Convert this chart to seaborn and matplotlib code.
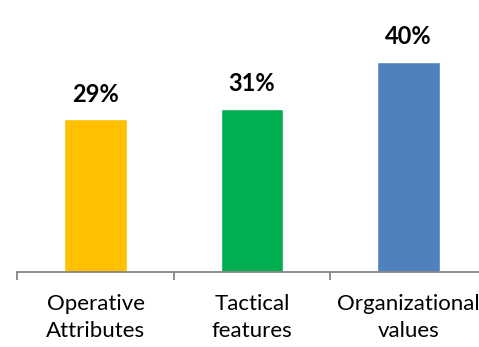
import matplotlib
matplotlib.use("Agg")
import matplotlib.pyplot as plt
import seaborn as sns
import pandas as pd
import numpy as np

categories = ["Operative\nAttributes", "Tactical\nfeatures", "Organizational\nvalues"]
values = [29, 31, 40]
labels = ["29%", "31%", "40%"]
colors = ["#FFC000", "#00B050", "#4F81BD"]

sns.set_theme(style="white")
plt.rcParams['font.family'] = ['Lato', 'DejaVu Sans']

df = pd.DataFrame({"cat": categories, "val": values})

fig = plt.figure(figsize=(4.79, 3.47), dpi=100)
ax = fig.add_axes([17.25 / 479, (347 - 272) / 347, (486.75 - 17.25) / 479, 272 / 347])
sns.barplot(data=df, x="cat", y="val", hue="cat", palette=colors, width=0.40,
            legend=False, ax=ax, saturation=1)
ax.set_xlim(-0.5, 2.5)
ax.set_ylim(0, 51.7)
ax.set_xlabel("")
ax.set_ylabel("")
ax.set_yticks([])
for s in ["top", "right", "left"]:
    ax.spines[s].set_visible(False)
ax.spines["bottom"].set_color("#868686")
ax.spines["bottom"].set_linewidth(1.3)

ax.set_xticks(range(len(categories)))
ax.set_xticklabels(categories, fontsize=16, color="#000000", linespacing=1.45)
ax.tick_params(axis="x", which="major", length=0, pad=16)
ax.set_xticks([-0.5, 0.5, 1.5, 2.5], minor=True)
ax.tick_params(axis="x", which="minor", length=6, width=1.3, color="#868686", bottom=True)

for i, (v, t) in enumerate(zip(values, labels)):
    ax.annotate(t, (i, v), xytext=(0, 10), textcoords="offset points",
                ha="center", va="bottom", fontsize=17, fontweight="bold", color="#000000")

fig.savefig("out.png", dpi=100)
